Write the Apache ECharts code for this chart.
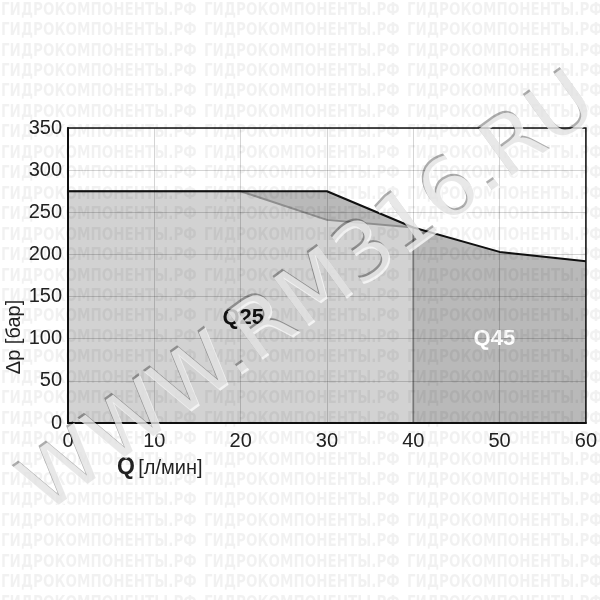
<!DOCTYPE html>
<html><head><meta charset="utf-8">
<script src="https://cdn.jsdelivr.net/npm/echarts@6/dist/echarts.min.js"></script>
<style>html,body{margin:0;padding:0;background:#fff}#c{width:600px;height:600px}</style>
</head><body><div id="c"></div>
<script>
// ---- data ----
const xTickLabels = ['0','10','20','30','40','50','60'];
const yTickLabels = ['0','50','100','150','200','250','300','350'];
const q25Flow = [0, 20, 30, 40, 40];
const q25Pressure = [275, 275, 241, 232, 0];
const q45Flow = [0, 30, 40, 50, 60];
const q45Pressure = [275, 275, 232, 203, 192];
const seriesNames = ['Q25', 'Q45'];
const xAxisTitle = ['Q', '[л/мин]'];
const yAxisTitle = 'Δp [бар]';
const rowWatermark = 'ГИДРОКОМПОНЕНТЫ.РФ';
const bigWatermark = 'WWW.RM316.RU';

const q25 = q25Flow.map((x, i) => [x, q25Pressure[i]]);
const q45 = q45Flow.map((x, i) => [x, q45Pressure[i]]);

const chart = echarts.init(document.getElementById('c'));

const graphics = [];
for (let r = 0; r < 30; r++) {
  for (let k = 0; k < 3; k++) {
    graphics.push({
      type: 'text', z: 100, silent: true,
      x: k * 203 + 1, y: 10 + r * 20.45, scaleX: 0.835,
      style: {
        text: rowWatermark,
        font: 'bold 18px "DejaVu Sans Condensed", sans-serif',
        fill: 'rgba(0,0,0,0.055)',
        verticalAlign: 'middle', align: 'left'
      }
    });
  }
}
const wmRot = 36 * Math.PI / 180;
const wmFont = '82px "DejaVu Sans", sans-serif';
graphics.push({
  type: 'text', z: 109, silent: true,
  x: 310, y: 296, rotation: wmRot,
  style: { text: bigWatermark, font: wmFont, fill: 'rgba(0,0,0,0.32)',
           align: 'center', verticalAlign: 'middle' }
});
graphics.push({
  type: 'text', z: 110, silent: true,
  x: 311.5, y: 298, rotation: wmRot,
  style: { text: bigWatermark, font: wmFont, fill: 'rgba(255,255,255,0.72)',
           align: 'center', verticalAlign: 'middle' }
});
graphics.push({
  type: 'text', z: 20, silent: true, x: 14, y: 337, rotation: Math.PI / 2,
  style: {
    text: yAxisTitle, font: '20px "Liberation Sans", Arial, sans-serif', fill: '#222',
    align: 'center', verticalAlign: 'middle'
  }
});
graphics.push({
  type: 'text', z: 20, silent: true, x: 117, y: 468,
  style: {
    text: '{b|' + xAxisTitle[0] + '} {n|' + xAxisTitle[1] + '}',
    verticalAlign: 'middle', align: 'left',
    rich: {
      b: { font: 'bold 23px "Liberation Sans", Arial, sans-serif', fill: '#222' },
      n: { font: '20px "Liberation Sans", Arial, sans-serif', fill: '#222' }
    }
  }
});

const axisLabelStyle = { color: '#222', fontSize: 20, fontFamily: '"Liberation Sans", Arial, sans-serif' };

chart.setOption({
  animation: false,
  backgroundColor: '#fff',
  grid: { left: 68, right: 10, top: 128, bottom: 177, show: true, z: 6,
          backgroundColor: 'transparent', borderColor: '#111', borderWidth: 1.5 },
  xAxis: {
    type: 'value', min: 0, max: 60, interval: 10, z: 5,
    axisLine: { lineStyle: { color: '#111', width: 2 } },
    axisTick: { show: false },
    splitLine: { lineStyle: { color: 'rgba(0,0,0,0.17)', width: 1 } },
    axisLabel: Object.assign({ margin: 8, formatter: v => xTickLabels[v / 10] }, axisLabelStyle)
  },
  yAxis: {
    type: 'value', min: 0, max: 350, interval: 50, z: 5,
    axisLine: { show: true, lineStyle: { color: '#111', width: 2 } },
    axisTick: { show: false },
    splitLine: { lineStyle: { color: 'rgba(0,0,0,0.17)', width: 1 } },
    axisLabel: Object.assign({ margin: 6, formatter: v => yTickLabels[v / 50] }, axisLabelStyle)
  },
  graphic: graphics,
  series: [
    { name: seriesNames[1], type: 'line', data: q45, z: 1, symbol: 'none',
      lineStyle: { width: 0 }, areaStyle: { color: '#b9b9b9', opacity: 1 },
      markPoint: { symbol: 'circle', symbolSize: 0,
        data: [{ coord: [49.4, 99.6], label: { show: true, position: 'inside', formatter: seriesNames[1],
          color: '#fff', fontWeight: 'bold', fontSize: 22, fontFamily: '"Liberation Sans", Arial, sans-serif' } }] } },
    { name: seriesNames[0], type: 'line', data: q25, z: 2, symbol: 'none',
      lineStyle: { width: 2, color: '#8e8e8e' }, areaStyle: { color: '#d2d2d2', opacity: 1 },
      markPoint: { symbol: 'circle', symbolSize: 0,
        data: [{ coord: [20.3, 124.5], label: { show: true, position: 'inside', formatter: seriesNames[0],
          color: '#111', fontWeight: 'bold', fontSize: 22, fontFamily: '"Liberation Sans", Arial, sans-serif' } }] } },
    { name: seriesNames[1] + ' line', type: 'line', data: q45, z: 3, symbol: 'none',
      lineStyle: { width: 2, color: '#111' } }
  ]
});
</script></body></html>
